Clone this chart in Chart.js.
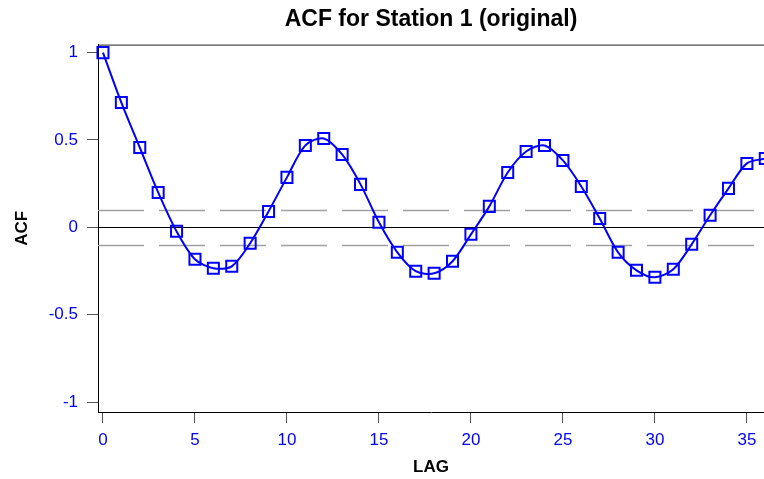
<!DOCTYPE html>
<html>
<head>
<meta charset="utf-8">
<script src="https://cdn.jsdelivr.net/npm/chart.js@4/dist/chart.umd.min.js"></script>
<style>
  html, body { margin: 0; padding: 0; background: #fff; }
  #wrap { width: 764px; height: 479px; }
</style>
</head>
<body>
<div id="wrap"><canvas id="acfChart"></canvas></div>
<script>
const lags = [0, 1, 2, 3, 4, 5, 6, 7, 8, 9, 10, 11, 12, 13, 14, 15, 16, 17, 18,
  19, 20, 21, 22, 23, 24, 25, 26, 27, 28, 29, 30, 31, 32, 33, 34, 35, 36];
const acf = [1.0, 0.714, 0.457, 0.2, -0.023, -0.183, -0.234, -0.223, -0.091, 0.091,
  0.286, 0.469, 0.509, 0.417, 0.246, 0.029, -0.143, -0.251, -0.263, -0.194,
  -0.04, 0.12, 0.314, 0.434, 0.469, 0.383, 0.234, 0.051, -0.143, -0.246,
  -0.286, -0.24, -0.097, 0.069, 0.223, 0.366, 0.394];
const xTicks = [0, 5, 10, 15, 20, 25, 30, 35];
const yTicks = [-1, -0.5, 0, 0.5, 1];
const confBand = 0.1;

const blue = "#0000ff";
const font = "Liberation Sans, Arial, sans-serif";

// dashed confidence lines, zero line and top frame
const refLines = {
  id: "refLines",
  beforeDatasetsDraw(chart) {
    const { ctx, chartArea: a, scales: { y } } = chart;
    ctx.save();
    ctx.lineWidth = 1.5;
    ctx.strokeStyle = "#a0a0a0";
    ctx.setLineDash([46, 15]);
    [confBand, -confBand].forEach((v) => {
      const py = Math.round(y.getPixelForValue(v)) + 0.5;
      ctx.beginPath();
      ctx.moveTo(a.left, py);
      ctx.lineTo(a.right, py);
      ctx.stroke();
    });
    ctx.setLineDash([]);
    ctx.lineWidth = 1;
    ctx.strokeStyle = "#000";
    const p0 = Math.round(y.getPixelForValue(0)) + 0.5;
    ctx.beginPath();
    ctx.moveTo(a.left, p0);
    ctx.lineTo(a.right, p0);
    ctx.stroke();
    ctx.strokeStyle = "#222";
    ctx.beginPath();
    ctx.moveTo(a.left, a.top + 0.5);
    ctx.lineTo(a.right, a.top + 0.5);
    ctx.stroke();
    ctx.restore();
  },
};

new Chart(document.getElementById("acfChart"), {
  type: "line",
  data: {
    datasets: [
      {
        label: "ACF",
        data: lags.map((l, i) => ({ x: l, y: acf[i] })),
        borderColor: blue,
        borderWidth: 2,
        tension: 0.3,
        pointStyle: "rect",
        pointRadius: 7.8,
        pointBorderWidth: 2,
        pointBorderColor: blue,
        pointBackgroundColor: "rgba(0,0,0,0)",
        clip: false,
      },
    ],
  },
  options: {
    responsive: true,
    maintainAspectRatio: false,
    animation: false,
    layout: { autoPadding: false, padding: { left: 0, right: 0, top: 0, bottom: 0 } },
    plugins: {
      legend: { display: false },
      tooltip: { enabled: false },
      title: {
        display: true,
        text: "ACF for Station 1 (original)",
        fullSize: false,
        color: "#000",
        font: { family: font, size: 23, weight: "bold" },
        padding: { top: 6, bottom: 11 },
      },
    },
    scales: {
      x: {
        type: "linear",
        min: -0.27,
        max: 35.93,
        afterBuildTicks: (s) => { s.ticks = xTicks.map((v) => ({ value: v })); },
        afterFit: (s) => { s.height = 67; s.paddingLeft = 0; s.paddingRight = 0; },
        ticks: {
          color: blue,
          padding: 7,
          autoSkip: false,
          maxRotation: 0,
          font: { family: font, size: 17 },
          callback: (v) => String(v),
        },
        grid: { drawOnChartArea: false, drawTicks: true, tickLength: 11, color: "#555" },
        border: { display: true, color: "#000", width: 1 },
        title: {
          display: true,
          text: "LAG",
          color: "#000",
          font: { family: font, size: 17, weight: "bold" },
          padding: { top: 0, bottom: 1 },
        },
      },
      y: {
        type: "linear",
        min: -1.057,
        max: 1.046,
        afterBuildTicks: (s) => { s.ticks = yTicks.map((v) => ({ value: v })); },
        afterFit: (s) => { s.width = 98; s.paddingTop = 0; s.paddingBottom = 0; },
        ticks: {
          color: blue,
          padding: 9,
          font: { family: font, size: 17 },
          callback: (v) => String(v),
        },
        grid: { drawOnChartArea: false, drawTicks: true, tickLength: 11, color: "#555" },
        border: { display: true, color: "#000", width: 1 },
        title: {
          display: true,
          text: "ACF",
          color: "#000",
          font: { family: font, size: 17, weight: "bold" },
          padding: { top: 12, bottom: 0 },
        },
      },
    },
  },
  plugins: [refLines],
});
</script>
</body>
</html>
